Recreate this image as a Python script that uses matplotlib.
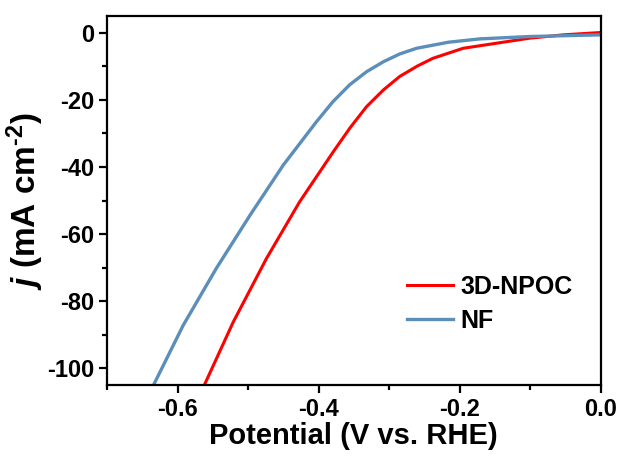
import matplotlib
matplotlib.use("Agg")
import matplotlib.pyplot as plt
from matplotlib.ticker import MultipleLocator

plt.rcParams['font.family'] = ['Liberation Sans', 'DejaVu Sans']
plt.rcParams['font.weight'] = 'bold'
plt.rcParams['mathtext.fontset'] = 'custom'
plt.rcParams['mathtext.rm'] = 'Liberation Sans:bold'
plt.rcParams['mathtext.bf'] = 'Liberation Sans:bold'
plt.rcParams['mathtext.it'] = 'Liberation Sans:bold:italic'

# 3D-NPOC (red)
npoc_v = [-0.562, -0.521, -0.474, -0.427, -0.379, -0.355, -0.332, -0.308,
          -0.285, -0.260, -0.238, -0.195, -0.148, -0.101, -0.053, 0.0]
npoc_j = [-105.0, -86.2, -67.3, -50.4, -35.4, -28.2, -22.0, -17.0,
          -13.0, -9.9, -7.6, -4.6, -3.1, -1.6, -0.6, 0.1]

# NF (blue)
nf_v = [-0.634, -0.592, -0.545, -0.497, -0.450, -0.403, -0.380, -0.356,
        -0.332, -0.308, -0.285, -0.261, -0.216, -0.171, -0.101, -0.050, 0.0]
nf_j = [-105.0, -87.2, -70.2, -54.3, -39.4, -26.5, -20.6, -15.5,
        -11.6, -8.6, -6.3, -4.6, -2.8, -1.8, -1.1, -0.85, -0.6]

labels = ['3D-NPOC', 'NF']
colors = ['#FF0000', '#5B8FBA']

fig = plt.figure(figsize=(6.33, 4.59), dpi=100)
ax = fig.add_axes([0.169, 0.161, 0.780, 0.804])

ax.plot(npoc_v, npoc_j, color=colors[0], lw=2.2, label=labels[0])
ax.plot(nf_v, nf_j, color=colors[1], lw=2.4, label=labels[1])

ax.set_xlim(-0.7, 0.0)
ax.set_ylim(-105, 5)
ax.xaxis.set_minor_locator(MultipleLocator(0.1))
ax.yaxis.set_minor_locator(MultipleLocator(10))
ax.set_xticks([-0.6, -0.4, -0.2, 0.0])
ax.set_xticklabels(['-0.6', '-0.4', '-0.2', '0.0'])
ax.set_yticks([0, -20, -40, -60, -80, -100])
ax.set_yticklabels(['0', '-20', '-40', '-60', '-80', '-100'])

for s in ax.spines.values():
    s.set_linewidth(1.6)
ax.tick_params(which='major', direction='out', length=6, width=1.6,
               labelsize=17, pad=3)
ax.tick_params(which='minor', direction='out', length=3.5, width=1.6)
for t in ax.get_xticklabels() + ax.get_yticklabels():
    t.set_fontweight('bold')

ax.set_xlabel('Potential (V vs. RHE)', fontsize=21, fontweight='bold', labelpad=1)
ax.set_ylabel(r'$j$ (mA cm$^{\text{-2}}$)', fontsize=24, fontweight='bold', labelpad=1)

leg = ax.legend(loc='upper left', bbox_to_anchor=(0.607, 0.299), frameon=False,
                prop={'size': 18, 'weight': 'bold'}, handlelength=1.84,
                handletextpad=0.3, labelspacing=0.4, borderpad=0,
                borderaxespad=0)

fig.savefig('out.png', dpi=100)
